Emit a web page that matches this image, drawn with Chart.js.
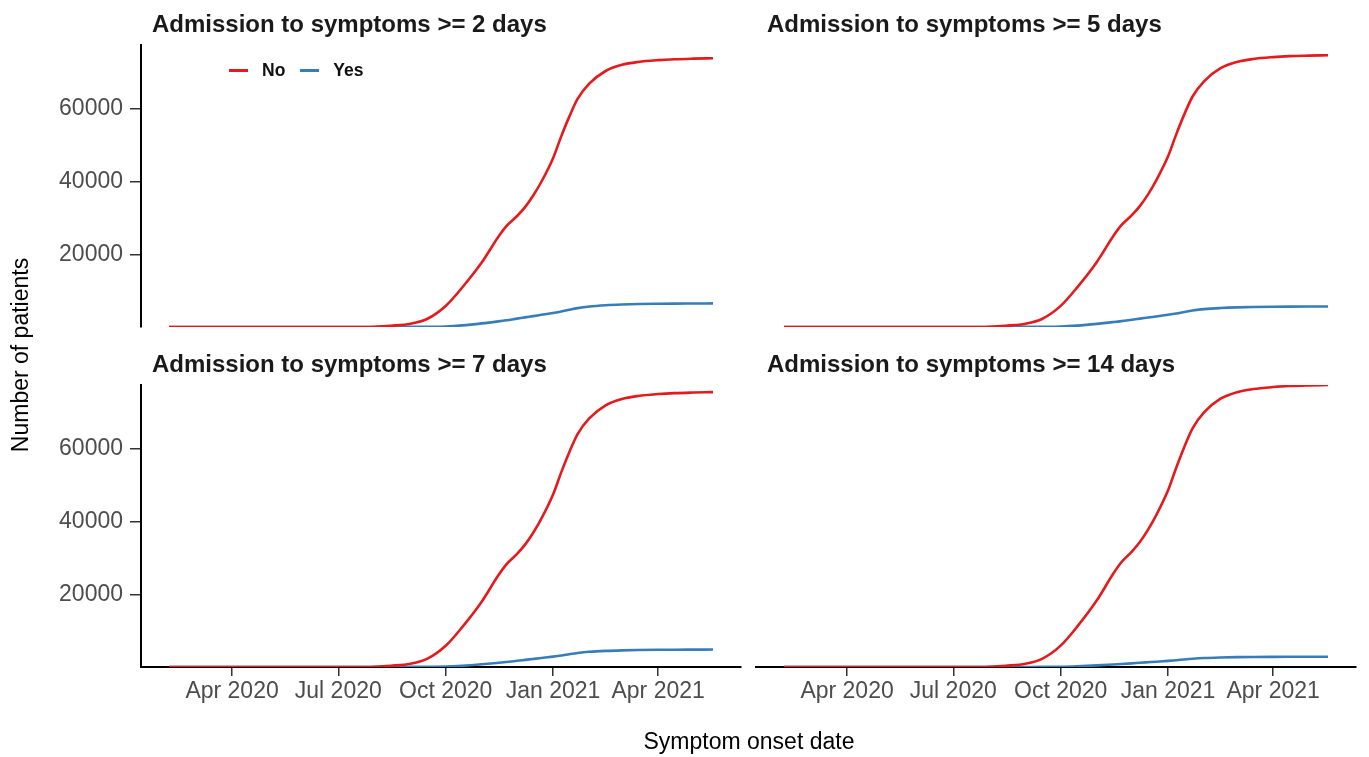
<!DOCTYPE html>
<html>
<head>
<meta charset="utf-8">
<script src="https://cdn.jsdelivr.net/npm/chart.js@4.4.1/dist/chart.umd.min.js"></script>
<style>
  html, body { margin: 0; padding: 0; background: #ffffff; }
  #wrap { position: relative; width: 1369px; height: 757px; overflow: hidden; background: #fff; font-family: "Liberation Sans", Arial, sans-serif; }
  canvas { position: absolute; }
  .ptitle { position: absolute; font-weight: bold; font-size: 24px; color: #1a1a1a; white-space: nowrap; line-height: 28px; }
  .axtitle { position: absolute; font-size: 23px; color: #000; white-space: nowrap; line-height: 26px; text-align: center; }
  .leg { position: absolute; display: flex; align-items: center; font-weight: bold; font-size: 17.5px; color: #111; line-height: 20px; }
  .leg .sw { display: inline-block; width: 19px; height: 3px; }
</style>
</head>
<body>
<div id="wrap">
  <canvas id="c0" width="750" height="350" style="left:0px;top:0px"></canvas>
  <canvas id="c1" width="619" height="350" style="left:750px;top:0px"></canvas>
  <canvas id="c2" width="750" height="417" style="left:0px;top:340px"></canvas>
  <canvas id="c3" width="619" height="417" style="left:750px;top:340px"></canvas>
  <div class="ptitle" id="t0" style="left:152px;top:10px"></div>
  <div class="ptitle" id="t1" style="left:767px;top:10px"></div>
  <div class="ptitle" id="t2" style="left:152px;top:350px"></div>
  <div class="ptitle" id="t3" style="left:767px;top:350px"></div>
  <div class="axtitle" id="xtitle" style="left:549px;top:728px;width:400px"></div>
  <div class="axtitle" id="ytitle" style="left:-130px;top:342px;width:300px;transform:rotate(-90deg)"></div>
  <div class="leg" id="legend" style="left:229px;top:60px"></div>
</div>
<script>
// ---------------- data ----------------
const PANEL_TITLES = [
  'Admission to symptoms >= 2 days',
  'Admission to symptoms >= 5 days',
  'Admission to symptoms >= 7 days',
  'Admission to symptoms >= 14 days'
];
const SERIES_NAMES = ['No', 'Yes'];
const SERIES_COLORS = ['#E41A1C', '#377EB8'];
const X_TITLE = 'Symptom onset date';
const Y_TITLE = 'Number of patients';

const DATES = [
  '2020-02-07','2020-07-15','2020-08-01','2020-08-15','2020-09-01','2020-09-15',
  '2020-10-01','2020-10-15','2020-11-01','2020-11-15','2020-11-22','2020-12-01',
  '2020-12-08','2020-12-15','2020-12-22','2021-01-01','2021-01-08','2021-01-15',
  '2021-01-22','2021-02-01','2021-02-15','2021-03-01','2021-03-15','2021-04-01',
  '2021-04-15','2021-05-01','2021-05-18'
];

const NO_2  = [0,0,80,350,900,2200,5800,10800,17800,24800,27800,30500,33000,36200,40000,46500,52500,58000,62800,67000,70500,72200,73000,73500,73750,73900,74000];
const YES_2 = [0,0,0,10,30,60,150,450,1000,1550,1850,2300,2650,3000,3350,3850,4250,4750,5200,5650,6000,6200,6320,6400,6450,6480,6500];

const NO_5  = [0,0,80,351,904,2208,5820,10860,17930,25000,28040,30800,33350,36590,40440,47000,53050,58620,63480,67730,71280,73000,73820,74330,74590,74740,74850];
const YES_5 = [0,0,0,9,26,52,130,390,870,1350,1610,2000,2300,2610,2910,3350,3700,4130,4520,4920,5220,5400,5500,5570,5610,5640,5650];

const NO_7  = [0,0,80,353,908,2216,5840,10920,18060,25200,28280,31100,33690,36980,40870,47500,53600,59230,64150,68470,72060,73810,74640,75160,75430,75590,75700];
const YES_7 = [0,0,0,7,22,44,110,330,740,1150,1370,1700,1960,2220,2480,2850,3150,3520,3850,4180,4440,4590,4680,4740,4770,4790,4800];

const NO_14  = [0,0,80,356,917,2234,5885,11050,18360,25670,28840,31800,34490,37890,41890,48670,54890,60670,65730,70180,73880,75690,76550,77100,77380,77550,77660];
const YES_14 = [0,0,0,4,13,26,65,200,440,680,810,1000,1160,1310,1460,1680,1860,2080,2270,2470,2620,2710,2770,2800,2820,2830,2840];

const X_TICK_DATES  = ['2020-04-01','2020-07-01','2020-10-01','2021-01-01','2021-04-01'];
const X_TICK_LABELS = ['Apr 2020','Jul 2020','Oct 2020','Jan 2021','Apr 2021'];
const Y_TICKS = [20000, 40000, 60000];
const X_RANGE = ['2020-01-14', '2021-06-11'];
const Y_RANGE = [0, 77660];

// ---------------- chart building ----------------
const FONT = '"Liberation Sans", Arial, sans-serif';
const toX = d => Date.parse(d + 'T00:00:00Z');

function makePanel(id, no, yes, cfg) {
  const mk = (vals) => DATES.map((d, i) => ({ x: toX(d), y: vals[i] }));
  const tickMap = {};
  X_TICK_DATES.forEach((d, i) => { tickMap[toX(d)] = X_TICK_LABELS[i]; });
  return new Chart(document.getElementById(id), {
    type: 'line',
    data: {
      datasets: [
        { label: SERIES_NAMES[0], data: mk(no), borderColor: SERIES_COLORS[0], borderWidth: 2.6,
          pointRadius: 0, fill: false, cubicInterpolationMode: 'monotone' },
        { label: SERIES_NAMES[1], data: mk(yes), borderColor: SERIES_COLORS[1], borderWidth: 2.6,
          pointRadius: 0, fill: false, cubicInterpolationMode: 'monotone' }
      ]
    },
    options: {
      responsive: false,
      animation: false,
      events: [],
      layout: { padding: cfg.pad },
      plugins: { legend: { display: false }, tooltip: { enabled: false }, title: { display: false } },
      scales: {
        x: {
          type: 'linear',
          display: cfg.showX,
          min: toX(X_RANGE[0]), max: toX(X_RANGE[1]),
          afterBuildTicks: (axis) => { axis.ticks = X_TICK_DATES.map(d => ({ value: toX(d) })); },
          afterFit: (axis) => { if (cfg.showX) axis.height = 90; },
          grid: { display: true, drawOnChartArea: false, drawTicks: true, tickLength: 9, color: '#333333', lineWidth: 1.5 },
          border: { display: true, color: '#000000', width: 2 },
          ticks: { color: '#4D4D4D', font: { family: FONT, size: 23, lineHeight: 1 }, padding: 4,
                   maxRotation: 0, autoSkip: false, callback: (v) => tickMap[v] || '' }
        },
        y: {
          type: 'linear',
          display: cfg.showY,
          min: Y_RANGE[0], max: Y_RANGE[1],
          afterBuildTicks: (axis) => { axis.ticks = Y_TICKS.map(v => ({ value: v })); },
          afterFit: (axis) => { if (cfg.showY) axis.width = 141; },
          grid: { display: true, drawOnChartArea: false, drawTicks: true, tickLength: 11, color: '#333333', lineWidth: 1.5 },
          border: { display: true, color: '#000000', width: 2 },
          ticks: { color: '#4D4D4D', font: { family: FONT, size: 23 }, padding: 7,
                   callback: (v) => String(v) }
        }
      }
    }
  });
}

makePanel('c0', NO_2, YES_2,   { showX: false, showY: true,  pad: { left: 0, right: 9,  top: 45, bottom: 23 } });
makePanel('c1', NO_5, YES_5,   { showX: false, showY: false, pad: { left: 6, right: 13, top: 45, bottom: 23 } });
makePanel('c2', NO_7, YES_7,   { showX: true,  showY: true,  pad: { left: 0, right: 9,  top: 45, bottom: 0 } });
makePanel('c3', NO_14, YES_14, { showX: true,  showY: false, pad: { left: 6, right: 13, top: 45, bottom: 0 } });

// ---------------- text ----------------
PANEL_TITLES.forEach((t, i) => { document.getElementById('t' + i).textContent = t; });
document.getElementById('xtitle').textContent = X_TITLE;
document.getElementById('ytitle').textContent = Y_TITLE;
const leg = document.getElementById('legend');
SERIES_NAMES.forEach((n, i) => {
  const sw = document.createElement('span');
  sw.className = 'sw';
  sw.style.background = SERIES_COLORS[i];
  sw.style.marginRight = '14px';
  const tx = document.createElement('span');
  tx.textContent = n;
  tx.style.marginRight = '15px';
  leg.appendChild(sw); leg.appendChild(tx);
});
</script>
</body>
</html>
